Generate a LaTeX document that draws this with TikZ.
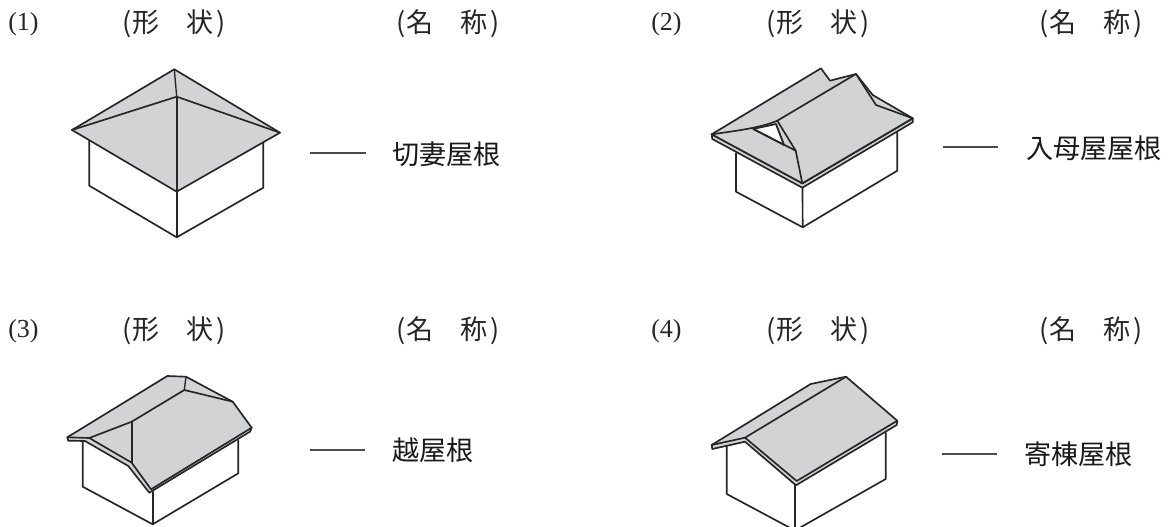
\documentclass[tikz,border=0pt]{standalone}
\usepackage{fontspec}
\setmainfont{Liberation Serif}
\newfontfamily\jp{Noto Sans CJK JP}
\tikzset{
  ln/.style={draw=black!85,line width=1.25pt,line join=round,line cap=round},
  roof/.style={ln,fill=roofgray},
  wall/.style={ln,fill=white},
  thin/.style={ln,line width=1pt},
  num/.style={inner sep=0pt,anchor=west,font=\fontsize{19.5}{20}\selectfont,text=black!85},
  hd/.style={inner sep=0pt,anchor=west,font=\jp\fontsize{20.3}{21}\selectfont,text=black!85},
  lbl/.style={inner sep=0pt,anchor=west,font=\jp\fontsize{20.3}{21}\selectfont,text=black!90},
  dashline/.style={draw=black!70,line width=0.8pt},
}
\definecolor{roofgray}{HTML}{D1D3D4}
\begin{document}
\begin{tikzpicture}[x=0.75pt,y=-0.75pt]
\clip (0,0) rectangle (1171,527);
\fill[white] (0,0) rectangle (1171,527);
% headers
\node[num] (n1) at (8,24) {(1)};
\node[hd] (h1) at (122,24) {(\kern1pt 形　状\kern2pt )};
\node[hd] (m1) at (396,24) {(\kern1pt 名　称\kern2pt )};
\node[num] (n2) at (651,24) {(2)};
\node[hd] (h2) at (766,24) {(\kern1pt 形　状\kern2pt )};
\node[hd] (m2) at (1039,24) {(\kern1pt 名　称\kern2pt )};
\node[num] (n3) at (8,331) {(3)};
\node[hd] (h3) at (122,331) {(\kern1pt 形　状\kern2pt )};
\node[hd] (m3) at (396,331) {(\kern1pt 名　称\kern2pt )};
\node[num] (n4) at (651,331) {(4)};
\node[hd] (h4) at (766,331) {(\kern1pt 形　状\kern2pt )};
\node[hd] (m4) at (1039,331) {(\kern1pt 名　称\kern2pt )};
% labels
\node[lbl] (l1) at (392,154.5) {切妻屋根};
\node[lbl] (l2) at (1026,148) {入母屋屋根};
\node[lbl] (l3) at (392,450.5) {越屋根};
\node[lbl] (l4) at (1024,454.5) {寄棟屋根};
\coordinate (d1) at (310,153);
\coordinate (e1) at (366,153);
\coordinate (d2) at (943,147);
\coordinate (e2) at (998,147);
\coordinate (d3) at (310,450);
\coordinate (e3) at (365,450);
\coordinate (d4) at (942,454);
\coordinate (e4) at (997,454);
\draw[dashline] (d1) -- (e1);
\draw[dashline] (d2) -- (e2);
\draw[dashline] (d3) -- (e3);
\draw[dashline] (d4) -- (e4);
% figure 1
\draw[wall] (89.3,140.7) -- (89.3,185.7) -- (176.7,237.3) -- (263.3,187.7) -- (263.3,143.3);
\draw[ln] (176.7,191.7) -- (176.7,237.3);
\draw[roof] (72,130) -- (174.3,69.3) -- (280,132.7) -- (176.7,191.7) -- cycle;
\draw[ln] (72,130) -- (176.7,96.7) -- (280,132.7);
\draw[ln] (176.7,96.7) -- (176.7,191.7);
\draw[thin] (174.3,69.3) -- (176.7,96.7);
% figure 2
\draw[wall] (736,153.3) -- (736,191.7) -- (802.7,227.3) -- (897.3,170.7) -- (897.3,132.7);
\draw[ln] (802.5,187.7) -- (802.7,227.3);
\draw[roof] (711.7,134.3) -- (712.3,139) -- (802.3,187.7) -- (912.7,122.3) -- (912.7,118.3) -- (802.3,183.3) -- cycle;
\draw[roof] (711.7,134.3) -- (821,68.3) -- (830,80.7) -- (856,74) -- (872.7,95) -- (912.7,118.3) -- (802.3,183.3) -- cycle;
\draw[roof] (856,74) -- (876,105) -- (912.7,118.3) -- (802.3,183.3) -- (795.7,150.7) -- (777.3,120.7) -- cycle;
\draw[ln] (711.7,134.3) .. controls (735,131) and (760,128) .. (777.3,120.7);
\draw[wall] (753.3,129) -- (776,124) -- (784,145) -- cycle;
\draw[thin] (776,124) -- (784,145);
\draw[ln] (753.3,129) -- (795.7,150.7);
% figure 3
\draw[wall] (82.7,441.7) -- (82.7,486.7) -- (152.7,524.3) -- (238.3,473.3) -- (238.3,440);
\draw[ln] (152.7,491.7) -- (152.7,524.3);
\draw[roof] (67.3,437.3) -- (68.3,440.7) -- (85,441) -- (128.3,466) -- (149.3,492.7) -- (250,431.7) -- (251.7,427.7) -- (232.7,401.7) -- (186,376.7) -- (167.3,376) -- cycle;
\draw[ln] (67.3,437.3) -- (89.3,438) -- (131.7,462.7) -- (151,489.3) -- (251.7,427.7);
\draw[ln] (89.3,438) -- (131.7,421.7) -- (184.3,390) -- (232.7,401.7);
\draw[ln] (131.7,421.7) -- (131.7,462.7);
\draw[thin] (184.3,390) -- (186,376.7);
% figure 4
\draw[wall] (726.7,446) -- (726.7,494) -- (795,530.5) -- (885.7,479) -- (885.7,432.7);
\draw[ln] (795,485) -- (795,530.5);
\draw[roof] (711.7,445) -- (712.3,449) -- (745,441.7) -- (796,485.3) -- (896.7,425) -- (897.3,420.7) -- (846,376.7) -- (810.7,384) -- cycle;
\draw[ln] (711.7,445) -- (745,437.7) -- (796.7,481) -- (897.3,420.7);
\draw[ln] (745,437.7) -- (846,376.7);
\end{tikzpicture}
\end{document}
